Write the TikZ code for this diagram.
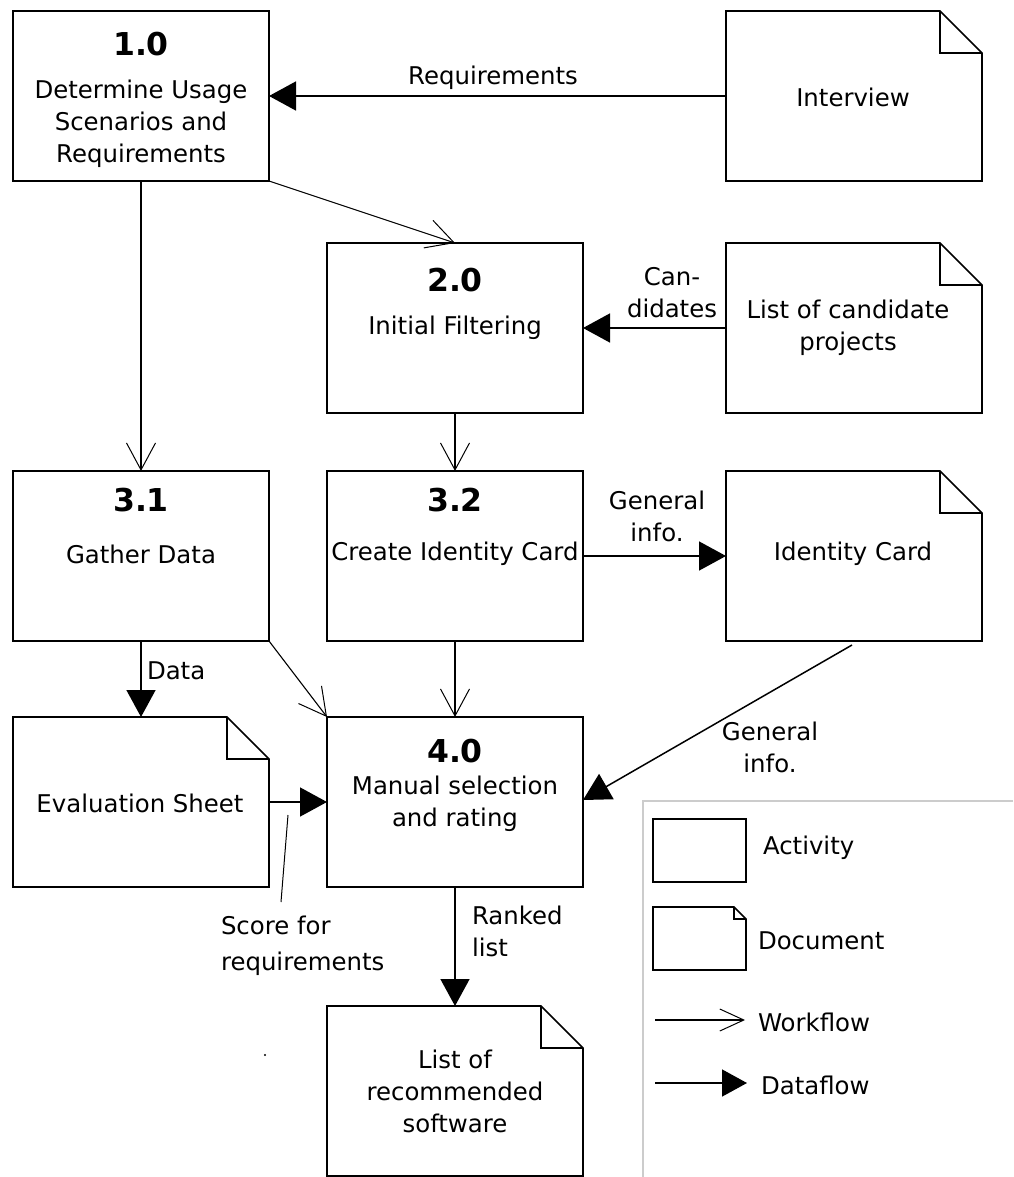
\documentclass[tikz,border=0pt]{standalone}
\usepackage{fontspec}
\setmainfont{DejaVu Sans}
\usetikzlibrary{arrows.meta}
\newcommand{\docfold}[2]{%
  \draw[line width=1.6pt,line join=miter] (#1.north west) -- ([xshift=-#2]#1.north east) -- ([yshift=-#2]#1.north east) -- (#1.south east) -- (#1.south west) -- cycle;
  \draw[line width=1.6pt,line join=miter] ([xshift=-#2]#1.north east) -- ([xshift=-#2,yshift=-#2]#1.north east) -- ([yshift=-#2]#1.north east);
}
\begin{document}
\begin{tikzpicture}[x=1pt,y=-1pt,
  every node/.append style={inner sep=0pt,outer sep=0pt,font=\fontsize{24.4pt}{32pt}\selectfont},
  actbox/.style={draw,line width=1.6pt,minimum width=256pt,minimum height=170pt,anchor=north west},
  docbox/.style={minimum width=256pt,minimum height=170pt,anchor=north west},
  head/.style={font=\fontsize{31.5pt}{36pt}\selectfont\bfseries},
  txt/.style={align=center},
  flow/.style={line width=1.5pt,-{Triangle[length=27pt,width=29pt]}},
  work/.style={line width=1.1pt,-{Straight Barb[length=27pt,width=29pt,line width=1pt]}}
]
\useasboundingbox (0,0) rectangle (1013,1177);
\fill[white] (0,0) rectangle (1013,1177);

% activities
\node[actbox] (a10) at (13,11) {};
\node[actbox] (a20) at (327,243) {};
\node[actbox] (a31) at (13,471) {};
\node[actbox] (a32) at (327,471) {};
\node[actbox] (a40) at (327,717) {};

% documents
\node[docbox] (iv) at (726,11) {};
\node[docbox] (lc) at (726,243) {};
\node[docbox] (ic) at (726,471) {};
\node[docbox] (ev) at (13,717) {};
\node[docbox] (rs) at (327,1006) {};
\docfold{iv}{42pt}
\docfold{lc}{42pt}
\docfold{ic}{42pt}
\docfold{ev}{42pt}
\docfold{rs}{42pt}

% box texts
\node[head] (h10) at (141,44) {1.0};
\node[txt] (t10) at (141,124) {Determine Usage\\Scenarios and\\Requirements};
\node[head] (h20) at (455,280) {2.0};
\node[txt] (t20) at (455,328) {Initial Filtering};
\node[head] (h31) at (141,500) {3.1};
\node[txt] (t31) at (141,554) {Gather Data};
\node[head] (h32) at (455,500) {3.2};
\node[txt] (t32) at (455,554) {Create Identity Card};
\node[head] (h40) at (455,751) {4.0};
\node[txt] (t40) at (455,804) {Manual selection\\and rating};

\node[txt] (tiv) at (853,97) {Interview};
\node[txt] (tlc) at (848,328) {List of candidate\\projects};
\node[txt] (tic) at (853,554) {Identity Card};
\node[txt] (tev) at (140,803) {Evaluation Sheet};
\node[txt] (trs) at (455,1091) {List of\\recommended\\software};

% dataflows
\draw[flow] (iv.west) -- (a10.east);
\draw[flow] (lc.west) -- (a20.east);
\draw[flow] (a32.east) -- (ic.west);
\draw[flow] (a31.south) -- (ev.north);
\draw[flow] (ev.east) -- (a40.west);
\draw[flow] ([xshift=-2pt,yshift=-4pt]ic.south) -- ([yshift=2pt]a40.east);
\draw[flow] (a40.south) -- (rs.north);

% workflows
\draw[work] (a10.south east) -- (a20.north);
\draw[work] (a10.south) -- (a31.north);
\draw[work] (a20.south) -- (a32.north);
\draw[work] (a31.south east) -- (a40.north west);
\draw[work] (a32.south) -- (a40.north);

% connector labels
\node[txt] (lreq) at (493,78) {Requirements};
\node[txt] (lcan) at (672,293) {Can-\\didates};
\node[txt] (lgi1) at (657,516) {General\\info.};
\node[txt] (lgi2) at (770,747) {General\\info.};
\node[anchor=west] (ldata) at (147,671) {Data};
\node[anchor=west,align=left] (lrank) at (472,931) {Ranked\\list};
\node[anchor=west,align=left,font=\fontsize{24.4pt}{36pt}\selectfont] (lscore) at (221,946) {Score for\\requirements};
\coordinate (sl1) at (288,815);
\coordinate (sl2) at (281,902);
\draw[line width=1pt] (sl1) -- (sl2);

% stray dot
\fill (265,1055) circle (1.1pt);

% legend
\draw[gray!40,line width=1.5pt] (1013,801) -- (643,801) -- (643,1177);
\node[draw,line width=1.6pt,minimum width=93pt,minimum height=63pt,anchor=north west] (lga) at (653,819) {};
\node[minimum width=93pt,minimum height=63pt,anchor=north west] (lgd) at (653,907) {};
\docfold{lgd}{12pt}
\coordinate (lw1) at (655,1020);
\coordinate (lw2) at (745,1020);
\draw[line width=1.1pt,-{Straight Barb[length=24pt,width=22pt,line width=1pt]}] (lw1) -- (lw2);
\coordinate (lf1) at (655,1083);
\coordinate (lf2) at (747,1083);
\draw[line width=1.5pt,-{Triangle[length=25pt,width=27pt]}] (lf1) -- (lf2);
\node[anchor=west] (lta) at (763,848) {Activity};
\node[anchor=west] (ltd) at (758,941) {Document};
\node[anchor=west] (ltw) at (758,1022) {Workflow};
\node[anchor=west] (ltf) at (761,1085) {Dataflow};
\end{tikzpicture}
\end{document}
